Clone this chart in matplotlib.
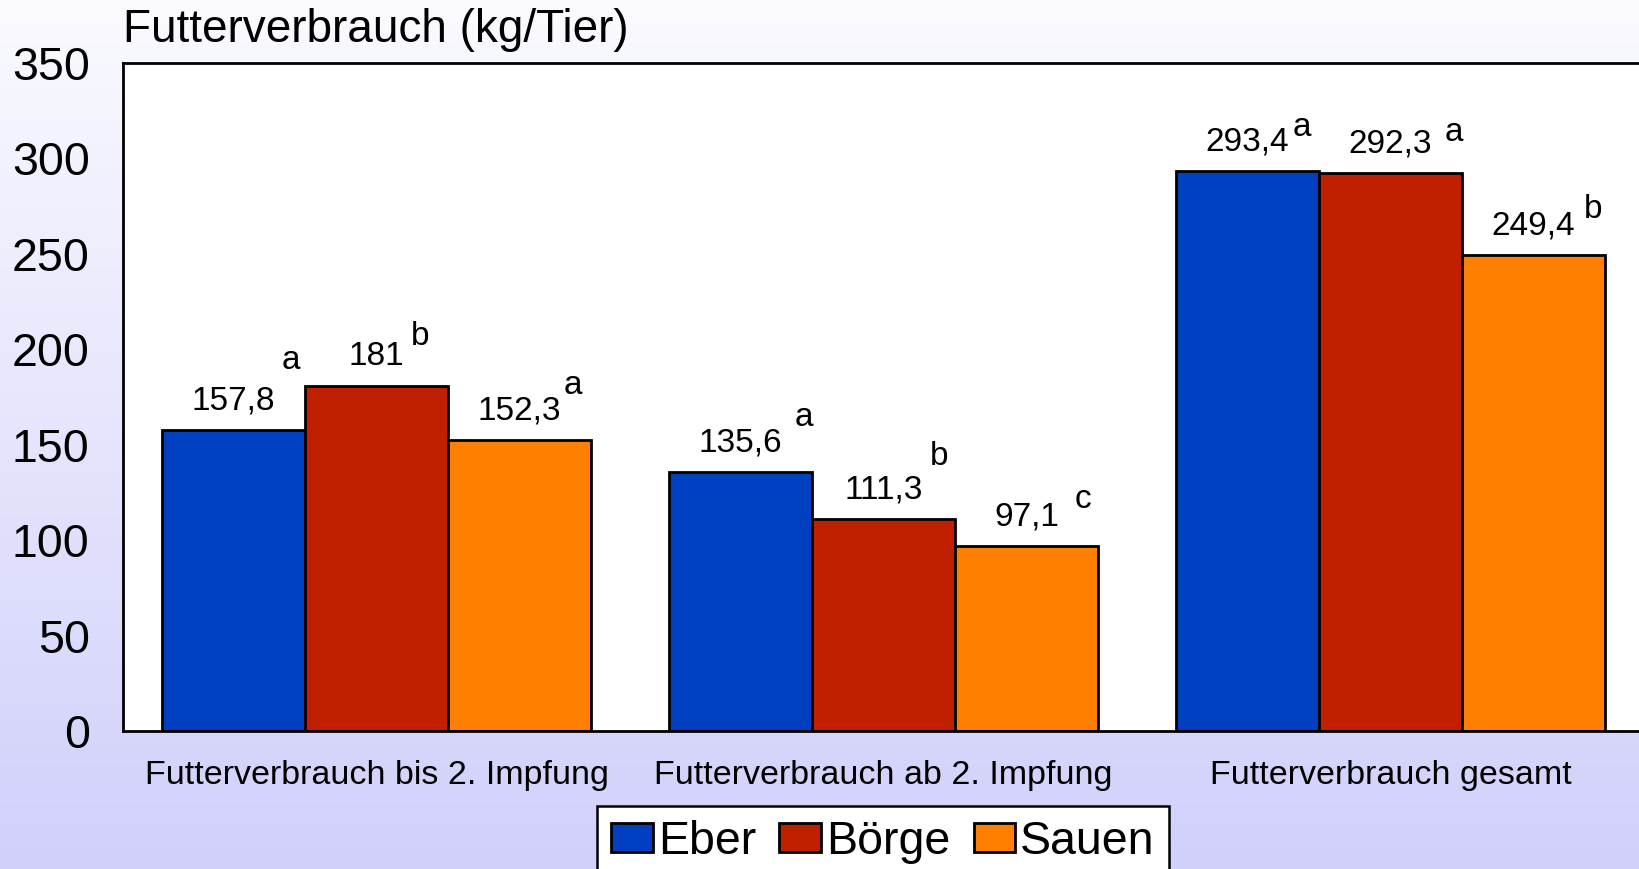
import numpy as np
import matplotlib.pyplot as plt
from matplotlib.colors import LinearSegmentedColormap

# data
categories = ['Futterverbrauch bis 2. Impfung', 'Futterverbrauch ab 2. Impfung', 'Futterverbrauch gesamt']
groups = ['Eber', 'Börge', 'Sauen']
eber = [157.8, 135.6, 293.4]
boerge = [181.0, 111.3, 292.3]
sauen = [152.3, 97.1, 249.4]
letters_eber = ['a', 'a', 'a']
letters_boerge = ['b', 'b', 'a']
letters_sauen = ['a', 'c', 'b']
yticks = [0, 50, 100, 150, 200, 250, 300, 350]

colors = ['#0040c0', '#c02000', '#ff8000']
# position of the superscript letter relative to bar top centre (pixels)
letter_off = [
    [(57, 69), (63, 55), (54, 44)],
    [(44, 49), (56, 62), (63, 41)],
    [(53, 55), (56, 46), (60, 46)],
]

plt.rcParams['font.family'] = ['Liberation Sans', 'DejaVu Sans']

fig = plt.figure(figsize=(16.39, 8.69), dpi=100)

# background gradient
bg = fig.add_axes([0, 0, 1, 1], zorder=-10)
cmap = LinearSegmentedColormap.from_list('bg', ['#fafaff', '#d0d0fb'])
bg.imshow(np.linspace(0, 1, 256).reshape(-1, 1), aspect='auto', cmap=cmap,
          extent=[0, 1, 0, 1])
bg.axis('off')

ax = fig.add_axes([123 / 1639, 138 / 869, 1521 / 1639, 668 / 869])
ax.set_facecolor('white')

x = np.arange(len(categories))
w = 0.282
series = [eber, boerge, sauen]
letters = [letters_eber, letters_boerge, letters_sauen]
for i, (vals, lab, col) in enumerate(zip(series, groups, colors)):
    pos = x + (i - 1) * w
    ax.bar(pos, vals, width=w, color=col, edgecolor='black', linewidth=2,
           label=lab)
    for j, v in enumerate(vals):
        txt = ('%g' % v).replace('.', ',')
        ax.annotate(txt, (pos[j], v), xytext=(0, 29), textcoords='offset pixels',
                    ha='center', va='center', fontsize=24)
        dx, dy = letter_off[i][j]
        ax.annotate(letters[i][j], (pos[j], v), xytext=(dx, dy),
                    textcoords='offset pixels', ha='center', va='center',
                    fontsize=24)

ax.set_xlim(-0.5, 2.5)
ax.set_ylim(0, 350)
ax.set_yticks(yticks)
ax.set_xticks(x)
ax.set_xticklabels(categories, fontsize=24.5)
ax.tick_params(axis='y', labelsize=33.5, length=0, pad=24)
ax.tick_params(axis='x', length=0, pad=21)
for s in ['left', 'top', 'bottom', 'right']:
    ax.spines[s].set_linewidth(2)

fig.text(123 / 1639, 1 - 30 / 869, 'Futterverbrauch (kg/Tier)', fontsize=33,
         ha='left', va='center')

leg = fig.legend(loc='upper center', bbox_to_anchor=(883 / 1639, 1 - 806 / 869),
                 ncol=3, fontsize=33.5, frameon=True, fancybox=False,
                 edgecolor='black', facecolor='white', framealpha=1,
                 handlelength=0.9, handleheight=0.6, handletextpad=0.1,
                 columnspacing=0.5, borderpad=0.3, borderaxespad=0)
leg.get_frame().set_linewidth(1.8)

fig.savefig('out.png', dpi=100)
